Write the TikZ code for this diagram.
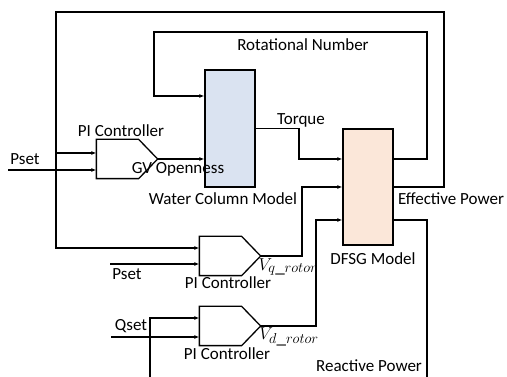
\documentclass[tikz,border=0pt]{standalone}
\usepackage{fontspec}
\setmainfont{Carlito}
\usepackage{tikz}
\usetikzlibrary{arrows.meta,positioning}

\begin{document}
\begin{tikzpicture}[
    x=1pt,y=-1pt,
    model/.style={rectangle,draw,line width=1.3pt,minimum width=50pt,
                  minimum height=117pt,inner sep=0pt},
    picon/.style={rectangle,minimum width=60pt,minimum height=38pt,inner sep=0pt},
    lbl/.style={inner sep=0pt,font=\fontsize{17}{20}\selectfont},
    >={Latex[length=5pt,width=4pt]},line width=1.3pt
  ]
    \useasboundingbox (0,0) rectangle (507,377);

    % blocks
    \node[model,fill={rgb,255:red,218;green,227;blue,241}] (WCM) at (230,128.5) {};
    \node[model,fill={rgb,255:red,251;green,231;blue,217},minimum height=116pt] (DFSG) at (368,187) {};
    \node[picon] (PIgv) at (127,159) {};
    \node[picon] (PIq) at (230,256) {};
    \node[picon] (PId) at (230,326) {};
    \foreach \n in {PIgv,PIq,PId}
      \draw (\n.north west) -- ([xshift=-19pt]\n.north east) -- (\n.east)
        -- ([xshift=-19pt]\n.south east) -- (\n.south west) -- cycle;

    % corners of the loops
    \coordinate (outerR) at (444,12);
    \coordinate (outerL) at (56,12);
    \coordinate (innerR) at (427,32);
    \coordinate (innerL) at (154,32);
    \coordinate (tap) at (56,153);
    \coordinate (tq) at (299,159);
    \coordinate (vq) at (302,187);
    \coordinate (vd) at (316,220);
    \coordinate (rp) at (427,377);
    \coordinate (psetA) at (8,170);
    \coordinate (psetB) at (110,264);
    \coordinate (qset) at (111,337);
    \coordinate (qfb) at (150,377);

    % connectors
    \draw[->] (DFSG.east) -| (outerR) -- (outerL) |- ([yshift=8pt]PIq.west);
    \draw[->] (tap) -- ([yshift=6pt]PIgv.west);
    \draw[->] (psetA) -- ([yshift=-11pt]PIgv.west);
    \draw[->] (PIgv.east) -- (PIgv.east -| WCM.west);
    \draw[->] ([yshift=28pt]DFSG.east) -| (innerR) -- (innerL) |- ([yshift=32.5pt]WCM.west);
    \draw[->] (WCM.east) -| (tq) -- ([yshift=28pt]DFSG.west);
    \draw[->] (PIq.east) -| (vq) -- (DFSG.west);
    \draw[->] (PId.east) -| (vd) -- ([yshift=-33pt]DFSG.west);
    \draw ([yshift=-33pt]DFSG.east) -| (rp);
    \draw[->] (psetB) -- ([yshift=-8pt]PIq.west);
    \draw[->] (qset) -- ([yshift=-11pt]PId.west);
    \draw[->] (qfb) |- ([yshift=8pt]PId.west);

    % labels
    \node[lbl] (tRot) at (303,45) {Rotational Number};
    \node[lbl] (tTorque) at (301,120) {Torque};
    \node[lbl] (tPIgv) at (121,131) {PI Controller};
    \node[lbl] (tPsetA) at (25,159) {Pset};
    \node[lbl] (tGV) at (178,169) {GV Openness};
    \node[lbl] (tWCM) at (223,199) {Water Column Model};
    \node[lbl] (tEff) at (451,199) {Effective Power};
    \node[lbl] (tDFSG) at (373,259) {DFSG Model};
    \node[lbl] (tPsetB) at (127,274) {Pset};
    \node[lbl] (tPIq) at (228,283) {PI Controller};
    \node[lbl,font=\fontsize{19}{22}\selectfont] (tVq) at (288,267) {$V_{q\_rotor}$};
    \node[lbl] (tQset) at (131,326) {Qset};
    \node[lbl] (tPId) at (227,354) {PI Controller};
    \node[lbl,font=\fontsize{19}{22}\selectfont] (tVd) at (289,337) {$V_{d\_rotor}$};
    \node[lbl] (tReact) at (369,366) {Reactive Power};
  \end{tikzpicture}
\end{document}
